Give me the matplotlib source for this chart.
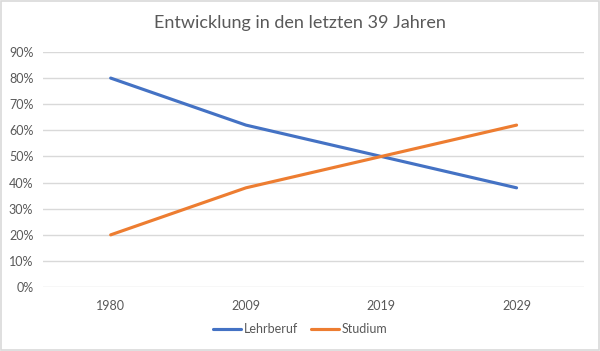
import matplotlib
matplotlib.use("Agg")
import matplotlib.pyplot as plt
from matplotlib.ticker import FuncFormatter, MultipleLocator
from matplotlib.patches import Rectangle

categories = ["1980", "2009", "2019", "2029"]
lehrberuf = [80, 62, 50, 38]
studium = [20, 38, 50, 62]

plt.rcParams['font.family'] = ['Lato', 'DejaVu Sans']

fig = plt.figure(figsize=(6, 3.51), dpi=100)
ax = fig.add_axes([0.0717, 0.182, 0.902, 0.670])

x = list(range(len(categories)))
ax.plot(x, lehrberuf, color="#4472C4", lw=2.25, label="Lehrberuf", solid_capstyle="round")
ax.plot(x, studium, color="#ED7D31", lw=2.25, label="Studium", solid_capstyle="round")

ax.set_xlim(-0.5, len(categories) - 0.5)
ax.set_ylim(0, 90)
ax.yaxis.set_major_locator(MultipleLocator(10))
ax.yaxis.set_major_formatter(FuncFormatter(lambda v, p: f"{int(round(v))}%"))
ax.set_xticks(x)
ax.set_xticklabels(categories)
ax.grid(axis="y", color="#D9D9D9", lw=1)
ax.set_axisbelow(True)
for s in ax.spines.values():
    s.set_visible(False)
ax.tick_params(axis="both", length=0, colors="#595959", labelsize=9)
ax.tick_params(axis="x", pad=9)
ax.tick_params(axis="y", pad=7)

fig.text(0.5, 0.935, "Entwicklung in den letzten 39 Jahren", ha="center", va="center",
         fontsize=13, color="#595959")

leg = fig.legend(loc="center", bbox_to_anchor=(0.5, 0.063), ncol=2, frameon=False,
                 fontsize=9, handlelength=2.3, handletextpad=0.2, columnspacing=1.0)
for t in leg.get_texts():
    t.set_color("#595959")

fig.patches.append(Rectangle((0.002, 0.003), 0.996, 0.994, transform=fig.transFigure,
                             fill=False, edgecolor="#D9D9D9", lw=1.2))

fig.savefig("out.png", dpi=100, facecolor="white")
